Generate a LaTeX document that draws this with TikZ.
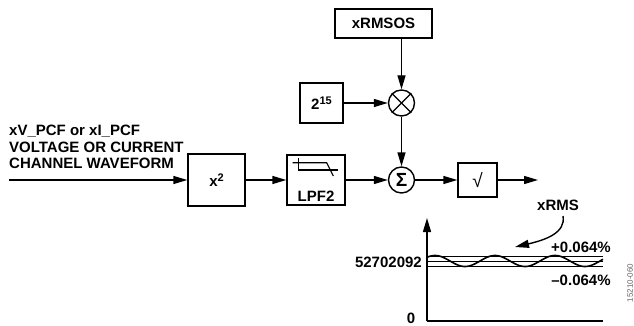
\documentclass[tikz,border=0pt]{standalone}
\usepackage{fontspec}
\setmainfont{Liberation Sans}
\usetikzlibrary{arrows.meta}
\newcommand{\supx}[1]{\raisebox{5.5pt}{\fontsize{11}{11}\selectfont #1}}
\begin{document}
\begin{tikzpicture}[x=1pt,y=-1pt,
  lbl/.style={font=\bfseries\fontsize{15}{16.5}\selectfont, inner sep=0pt},
  blk/.style={draw, line width=1.4pt, minimum width=#1, inner sep=0pt, font=\bfseries\fontsize{15}{16.5}\selectfont},
  opc/.style={draw, circle, line width=1.4pt, minimum size=26pt, inner sep=0pt},
  wire/.style={line width=1.4pt},
  arr/.style={wire, -{Triangle[length=14pt,width=8pt]}},
  thinl/.style={line width=0.9pt}]
\useasboundingbox (0,0) rectangle (634,326);

% blocks
\node[blk=97pt, minimum height=29pt] (xrmsos) at (383.5,23.5) {xRMSOS};
\node[blk=43pt, minimum height=40pt] (two) at (321.5,103) {2\supx{15}};
\node[opc] (mult) at (401.5,103) {};
\draw[wire] (mult.north east) -- (mult.south west);
\draw[wire] (mult.north west) -- (mult.south east);
\node[opc, font=\bfseries\fontsize{19}{19}\selectfont] (sum) at (401.5,180) {Σ};
\node[blk=57pt, minimum height=52pt] (x2) at (216.5,180) {x\supx{2}};
\node[blk=58pt, minimum height=50pt] (lpf) at (316,180) {};
\node[lbl, anchor=base] (lpft) at (316,201) {LPF2};
\node[blk=39pt, minimum height=34pt, font=\fontsize{19}{19}\selectfont] (sq) at (477.5,180) {√};

% LPF icon
\draw[line width=1.1pt] (298.3,158.3) -- (298.3,170) -- (338,170);
\draw[line width=1.1pt] (292.7,162.7) -- (326.7,162.7) -- (333.3,176);

% input label
\node[lbl, anchor=base west] (in1) at (9,135.5) {xV\_PCF or xI\_PCF};
\node[lbl, anchor=base west] (in2) at (9,152) {VOLTAGE OR CURRENT};
\node[lbl, anchor=base west] (in3) at (9,168.5) {CHANNEL WAVEFORM};

% connectors
\coordinate (inp) at (9,180);
\coordinate (outp) at (538,180);
\draw[arr] (inp) -- (x2.west);
\draw[arr] (x2.east) -- (lpf.west);
\draw[arr] (lpf.east) -- (sum.west);
\draw[arr] (sum.east) -- (sq.west);
\draw[arr] (sq.east) -- (outp);
\draw[arr] (xrmsos.south -| mult) -- (mult.north);
\draw[arr] (two.east) -- (mult.west);
\draw[arr] (mult.south) -- (sum.north);

% graph
\coordinate (org) at (427,321);
\coordinate (ytop) at (427,218);
\coordinate (xend) at (603,321);
\draw[wire] (xend) -- (org);
\draw[arr] (org) -- (ytop);
\draw[thinl] (427,256) -- (603,256);
\draw[thinl] (427,261) -- (603,261);
\draw[thinl] (427,266.5) -- (603,266.5);
\draw[line width=1.6pt] plot[domain=427:603, samples=120, smooth] (\x, {261-5.5*cos(6*(\x-435))});

\node[lbl, anchor=east] (val) at (422,262) {52702092};
\node[lbl] (zero) at (411,318) {0};
\node[lbl] (xrms) at (558,205) {xRMS};
\node[lbl] (pp) at (581,247) {+0.064\%};
\node[lbl] (mm) at (581,280) {–0.064\%};
\coordinate (ca) at (563,216);
\coordinate (cb) at (515,247);
\draw[arr] (ca) .. controls (566,233) and (545,240) .. (cb);

\node[font=\fontsize{8}{8}\selectfont, text=black!60, rotate=90, inner sep=0pt] (fig) at (630,283) {15210-060};
\end{tikzpicture}
\end{document}
